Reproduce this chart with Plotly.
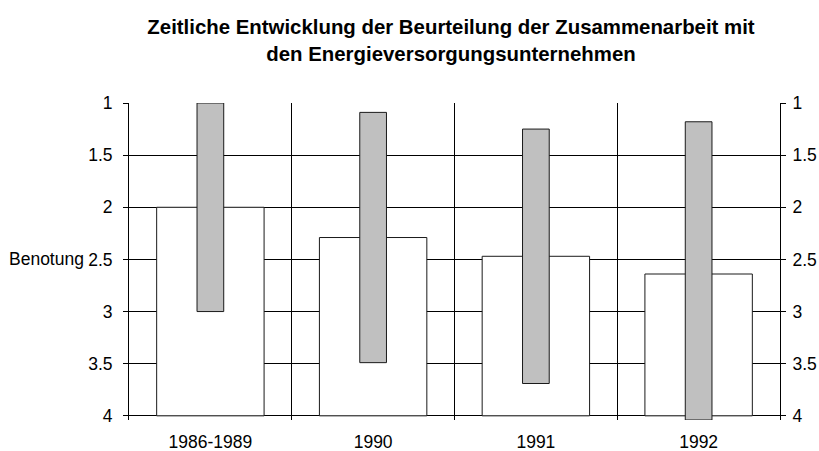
import plotly.graph_objects as go

# Zeiträume und Benotungen (1 = sehr gut, 4 = schlecht)
categories = ["1986-1989", "1990", "1991", "1992"]
mean_grade = [2.0, 2.29, 2.47, 2.64]          # weiße Säulen: Durchschnittsnote
range_best = [1.0, 1.09, 1.25, 1.18]          # graue Spanne: beste Note
range_worst = [3.0, 3.49, 3.69, 4.04]         # graue Spanne: schlechteste Note
y_ticks = [1, 1.5, 2, 2.5, 3, 3.5, 4]

FONT = "Liberation Sans, Arial, sans-serif"
TICK_SIZE = 17.5
y_range = [4.04, 1]

fig = go.Figure()

fig.add_trace(go.Bar(
    x=categories,
    base=mean_grade,
    y=[4 - v for v in mean_grade],
    width=0.66,
    marker=dict(color="white", line=dict(color="#1a1a1a", width=1)),
    yaxis="y",
    showlegend=False,
    hoverinfo="skip",
))

fig.add_trace(go.Bar(
    x=categories,
    base=range_best,
    y=[w - b for b, w in zip(range_best, range_worst)],
    width=0.164,
    marker=dict(color="#C0C0C0", line=dict(color="#1a1a1a", width=1)),
    yaxis="y2",
    showlegend=False,
    hoverinfo="skip",
))

axis_common = dict(
    range=y_range,
    tickvals=y_ticks,
    ticktext=[f"{t:g}" for t in y_ticks],
    ticks="outside",
    ticklen=5,
    tickcolor="black",
    showline=True,
    linecolor="black",
    linewidth=1,
    tickfont=dict(family=FONT, size=TICK_SIZE, color="black"),
    zeroline=False,
    fixedrange=True,
    automargin=False,
)

fig.update_layout(
    width=819,
    height=451,
    margin=dict(l=129, r=39, t=103, b=31, autoexpand=False),
    paper_bgcolor="white",
    plot_bgcolor="white",
    barmode="overlay",
    font=dict(family=FONT, size=TICK_SIZE, color="black"),
    title=dict(
        text="<b>Zeitliche Entwicklung der Beurteilung der Zusammenarbeit mit<br>"
             "den Energieversorgungsunternehmen</b>",
        font=dict(family=FONT, size=20.4, color="black"),
        x=451 / 819,
        xanchor="center",
        y=1 - 34 / 451,
        yanchor="middle",
    ),
    xaxis=dict(
        type="category",
        tickson="boundaries",
        showgrid=True,
        gridcolor="black",
        gridwidth=1,
        showline=False,
        ticks="",
        tickfont=dict(family=FONT, size=TICK_SIZE, color="black"),
        ticklabelstandoff=9,
        fixedrange=True,
        automargin=False,
    ),
    yaxis=dict(
        **axis_common,
        side="left",
        showgrid=True,
        gridcolor="black",
        gridwidth=1,
        ticklabelstandoff=7,
    ),
    yaxis2=dict(
        **axis_common,
        side="right",
        overlaying="y",
        showgrid=False,
        ticklabelstandoff=3,
    ),
    annotations=[
        dict(
            text="Benotung",
            xref="paper", yref="y",
            x=0, y=2.5,
            xanchor="right", yanchor="middle",
            xshift=-43.5,
            showarrow=False,
            font=dict(family=FONT, size=TICK_SIZE, color="black"),
        )
    ],
)

fig.write_html("out.html")
